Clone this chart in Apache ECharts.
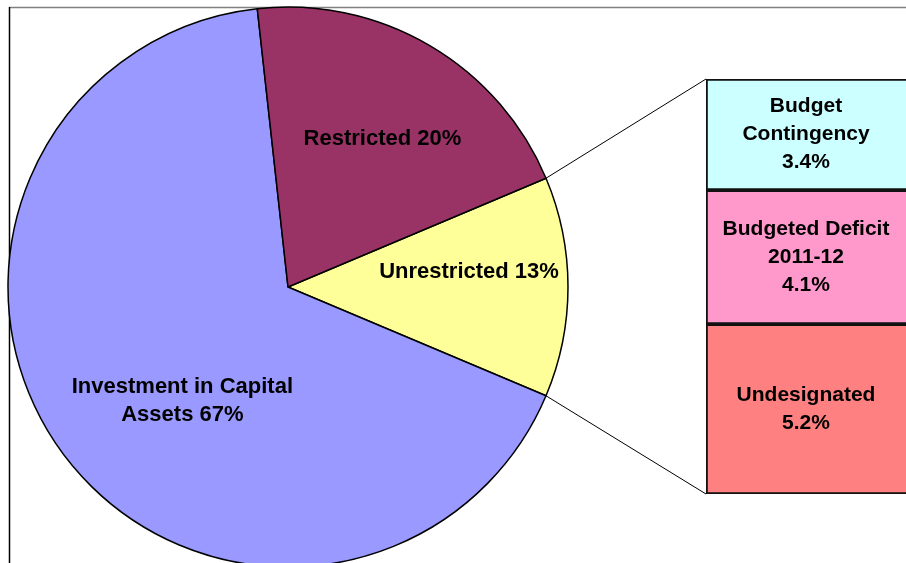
<!DOCTYPE html>
<html>
<head>
<meta charset="utf-8">
<script src="https://cdn.jsdelivr.net/npm/echarts@6/dist/echarts.min.js"></script>
<style>
  html, body { margin: 0; padding: 0; background: #fff; }
  #chart { width: 906px; height: 563px; }
</style>
</head>
<body>
<div id="chart"></div>
<script>
// pie: order is clockwise starting from the top edge of the split slice
const pieNames = ['Unrestricted', 'Investment in Capital\nAssets', 'Restricted'];
const pieValues = [12.7, 66.9, 20.4];
const pieColors = ['#FFFF99', '#9999FF', '#993366'];

// breakdown of the unrestricted slice
const barNames = ['Budget\nContingency', 'Budgeted Deficit\n2011-12', 'Undesignated'];
const barValues = [3.4, 4.1, 5.2];
const barColors = ['#CCFFFF', '#FF99CC', '#FF8080'];

const pieCenter = [288, 287];
const pieRadius = 280;
// bar runs past the right edge of the picture, as in the original
const barBox = { left: 706, top: 79, width: 206, height: 415 };
const font = 'Liberation Sans, Arial, sans-serif';

const pieTotal = pieValues.reduce((a, b) => a + b, 0);
const barTotal = barValues.reduce((a, b) => a + b, 0);
// split slice centred on 3 o'clock
const startAngle = pieValues[0] / pieTotal * 360 / 2;

// label nudges (Excel places them a little off the mid radius)
const labelOffsets = [[38, -15], [9, 28], [22, -25]];

function piePoint(deg) {
  const a = deg * Math.PI / 180;
  return [pieCenter[0] + pieRadius * Math.cos(a), pieCenter[1] - pieRadius * Math.sin(a)];
}
const pTop = piePoint(startAngle);
const pBot = piePoint(-startAngle);

const chart = echarts.init(document.getElementById('chart'));

const barSeries = barValues.map((v, i) => ({
  type: 'bar',
  name: barNames[i],
  stack: 'split',
  barWidth: '100%',
  silent: true,
  data: [v],
  itemStyle: { color: barColors[i], borderColor: '#111', borderWidth: 1.8 },
  label: {
    show: true,
    position: 'inside',
    offset: [-3, 0],
    formatter: barNames[i] + '\n' + v.toFixed(1) + '%',
    color: '#000',
    fontFamily: font,
    fontWeight: 'bold',
    fontSize: 21,
    lineHeight: 28
  }
}));

chart.setOption({
  animation: false,
  backgroundColor: '#fff',
  grid: {
    left: barBox.left, top: barBox.top, width: barBox.width, height: barBox.height,
    outerBoundsMode: 'none'
  },
  xAxis: { type: 'category', data: [''], show: false },
  yAxis: { type: 'value', inverse: true, min: 0, max: barTotal, show: false },
  graphic: [
    { type: 'line', shape: { x1: 9, y1: 7.5, x2: 906, y2: 7.5 }, style: { stroke: '#808080', lineWidth: 1.5 }, silent: true },
    { type: 'line', shape: { x1: 9.5, y1: 7, x2: 9.5, y2: 563 }, style: { stroke: '#000', lineWidth: 1.5 }, silent: true },
    { type: 'line', shape: { x1: pTop[0], y1: pTop[1], x2: barBox.left, y2: barBox.top }, style: { stroke: '#000', lineWidth: 1 }, silent: true },
    { type: 'line', shape: { x1: pBot[0], y1: pBot[1], x2: barBox.left, y2: barBox.top + barBox.height }, style: { stroke: '#000', lineWidth: 1 }, silent: true }
  ],
  series: [
    {
      type: 'pie',
      center: pieCenter,
      radius: pieRadius,
      startAngle: startAngle,
      clockwise: true,
      silent: true,
      labelLine: { show: false },
      itemStyle: { borderColor: '#000', borderWidth: 1.5 },
      label: {
        show: true,
        position: 'inside',
        formatter: p => p.name + ' ' + Math.round(p.value) + '%',
        color: '#000',
        fontFamily: font,
        fontWeight: 'bold',
        fontSize: 22,
        lineHeight: 28
      },
      data: pieValues.map((v, i) => ({
        name: pieNames[i],
        value: v,
        itemStyle: { color: pieColors[i] },
        label: { offset: labelOffsets[i] }
      }))
    }
  ].concat(barSeries)
});
</script>
</body>
</html>
